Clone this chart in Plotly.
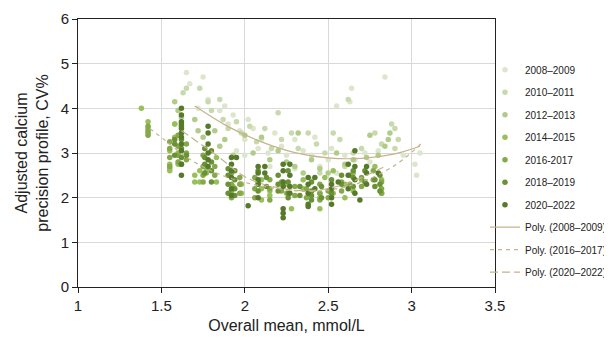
import plotly.graph_objects as go

# ---------------- data ----------------
labels = ["2008–2009", "2010–2011", "2012–2013", "2014–2015",
          "2016-2017", "2018–2019", "2020–2022"]
colors = ["#dde6cc", "#c8d9ad", "#b0cc88", "#98c05a",
          "#84a84a", "#6b9136", "#56792a"]

x_2008 = [1.65, 1.67, 1.75, 1.78, 1.72, 1.85, 1.88, 1.90, 1.93, 1.97, 2.00, 2.02, 2.05, 2.08, 2.10,
          2.14, 2.18, 2.22, 2.25, 2.30, 2.35, 2.40, 2.42, 2.45, 2.50, 2.52, 2.55, 2.60, 2.63, 2.64,
          2.66, 2.72, 2.75, 2.80, 2.84, 2.95, 3.02, 3.03, 3.05, 2.30, 2.15, 2.40, 2.55, 1.95, 2.00]
y_2008 = [4.80, 4.55, 4.70, 4.20, 4.00, 3.95, 4.05, 3.65, 3.85, 3.50, 3.30, 3.75, 3.55, 3.10, 3.30,
          3.00, 3.45, 3.15, 2.95, 3.30, 3.05, 2.95, 3.35, 2.70, 2.85, 3.10, 4.05, 2.95, 4.15, 4.45,
          2.85, 3.00, 2.80, 3.05, 4.70, 2.95, 2.75, 2.50, 3.00, 2.65, 2.70, 2.40, 2.55, 3.05, 2.95]

x_2010 = [1.63, 1.65, 1.73, 1.78, 1.80, 1.85, 1.87, 1.90, 1.95, 1.98, 2.03, 2.07, 2.12, 2.16, 2.20,
          2.22, 2.28, 2.32, 2.38, 2.43, 2.48, 2.53, 2.57, 2.62, 2.65, 2.70, 2.78, 2.82, 2.88, 2.90,
          2.92, 2.90, 2.60, 2.45]
y_2010 = [4.35, 4.45, 4.45, 4.15, 3.95, 4.20, 3.75, 3.55, 3.70, 3.45, 3.60, 3.25, 3.55, 3.10, 3.90,
          3.30, 3.45, 3.10, 3.45, 3.20, 3.00, 3.45, 3.30, 4.20, 3.00, 3.10, 3.45, 3.20, 3.65, 3.55,
          3.30, 3.10, 2.70, 2.55]

x_2012 = [1.60, 1.58, 1.58, 1.62, 1.70, 1.72, 1.75, 1.82, 1.85, 1.88, 1.93, 2.00, 2.05, 2.10, 2.15,
          2.20, 2.25, 2.30, 2.32, 2.35, 2.40, 2.45, 2.50, 2.55, 2.60, 2.65, 2.73, 2.75, 2.80, 2.84,
          2.86, 2.87]
y_2012 = [3.95, 3.65, 4.15, 3.80, 3.75, 3.50, 3.35, 3.50, 3.15, 3.30, 2.95, 3.40, 3.00, 3.35, 2.85,
          3.05, 2.80, 2.70, 3.45, 2.55, 2.85, 2.65, 2.55, 3.00, 2.75, 2.85, 2.90, 3.40, 2.95, 3.15,
          3.30, 3.45]

x_2014 = [1.38, 1.42, 1.42, 1.55, 1.55, 1.55, 1.55, 1.58, 1.58, 1.60, 1.60, 1.70, 1.70, 1.73, 1.73,
          1.77, 1.77, 1.83, 1.83, 1.93, 1.93, 1.93, 1.98, 1.98, 2.10, 2.10, 2.10, 2.15, 2.15, 2.25,
          2.25, 2.28, 2.35, 2.35, 2.45, 2.45, 2.45, 2.48, 2.53, 2.53, 2.60, 2.60, 2.65, 2.65, 2.70,
          2.78, 2.82, 2.82]
y_2014 = [4.00, 3.70, 3.55, 3.05, 2.75, 2.65, 2.60, 3.65, 3.35, 3.00, 2.75, 2.50, 2.35, 2.60, 2.35,
          2.65, 2.55, 2.90, 2.35, 2.25, 2.05, 2.60, 2.30, 2.10, 1.95, 2.40, 2.20, 2.05, 2.15, 2.10,
          2.30, 1.75, 2.20, 2.40, 1.75, 2.00, 2.10, 2.45, 2.10, 2.60, 2.00, 2.30, 2.55, 2.15, 2.40,
          2.70, 2.10, 2.40]

x_2016 = [1.42, 1.42, 1.42, 1.42, 1.55, 1.55, 1.55, 1.55, 1.60, 1.60, 1.60, 1.60, 1.65, 1.65, 1.65,
          1.75, 1.75, 1.75, 1.75, 1.82, 1.82, 1.92, 1.92, 1.92, 1.92, 1.97, 1.97, 1.97, 2.06, 2.06,
          2.06, 2.15, 2.15, 2.15, 2.22, 2.22, 2.30, 2.30, 2.37, 2.37, 2.45, 2.45, 2.45, 2.50, 2.50,
          2.58, 2.58, 2.63, 2.63, 2.70, 2.70, 2.77, 2.77, 2.82, 2.82, 2.82]
y_2016 = [3.60, 3.50, 3.45, 3.40, 3.25, 3.10, 2.90, 2.70, 3.40, 3.15, 2.95, 2.80, 3.20, 3.00, 2.85,
          2.95, 2.70, 2.50, 2.35, 2.70, 2.50, 2.55, 2.30, 2.15, 2.00, 2.45, 2.30, 2.10, 2.45, 2.20,
          2.00, 2.40, 2.20, 1.95, 2.35, 2.15, 2.25, 2.05, 2.20, 2.00, 2.30, 2.10, 1.95, 2.15, 2.00,
          2.35, 2.15, 2.50, 2.30, 2.45, 2.25, 2.60, 2.40, 2.35, 2.20, 2.10]

x_2018 = [1.58, 1.58, 1.58, 1.62, 1.62, 1.62, 1.62, 1.62, 1.65, 1.76, 1.76, 1.76, 1.76, 1.80, 1.80,
          1.80, 1.80, 1.90, 1.90, 1.90, 1.90, 1.94, 1.94, 1.94, 1.94, 2.08, 2.08, 2.08, 2.13, 2.13,
          2.20, 2.20, 2.20, 2.26, 2.26, 2.26, 2.26, 2.33, 2.33, 2.40, 2.40, 2.40, 2.40, 2.46, 2.46,
          2.52, 2.52, 2.58, 2.58, 2.65, 2.65, 2.65, 2.72, 2.72, 2.78, 2.78, 2.81, 2.81, 2.81]
y_2018 = [3.30, 3.20, 2.95, 3.60, 3.30, 3.10, 2.90, 2.75, 2.95, 3.10, 2.90, 2.75, 2.55, 3.05, 2.80,
          2.60, 2.35, 2.65, 2.50, 2.30, 2.10, 2.60, 2.40, 2.20, 2.05, 2.60, 2.35, 2.15, 2.45, 2.25,
          2.50, 2.30, 2.15, 2.60, 2.35, 2.10, 2.00, 2.25, 2.05, 2.35, 2.15, 2.05, 1.95, 2.25, 2.00,
          2.40, 2.10, 2.50, 2.30, 2.60, 2.45, 2.25, 2.60, 2.35, 2.40, 2.25, 2.50, 2.30, 2.15]

x_2020 = [1.62, 1.62, 1.62, 1.62, 1.62, 1.62, 1.62, 1.62, 1.62, 1.62, 1.62, 1.78, 1.78, 1.78, 1.78,
          1.78, 1.78, 1.92, 1.92, 1.92, 1.92, 1.92, 1.92, 1.95, 2.02, 2.08, 2.08, 2.08, 2.08, 2.08,
          2.12, 2.12, 2.23, 2.23, 2.23, 2.23, 2.23, 2.23, 2.23, 2.27, 2.27, 2.27, 2.27, 2.38, 2.38,
          2.38, 2.38, 2.38, 2.42, 2.42, 2.52, 2.52, 2.52, 2.52, 2.56, 2.62, 2.62, 2.62, 2.66, 2.66,
          2.66, 2.66, 2.69, 2.73, 2.73, 2.73, 2.80]
y_2020 = [4.00, 3.85, 3.70, 3.65, 3.55, 3.45, 3.35, 3.20, 3.05, 2.75, 2.50, 3.60, 3.45, 3.20, 3.00,
          2.85, 2.70, 2.90, 2.75, 2.60, 2.45, 2.20, 2.05, 2.90, 1.82, 2.70, 2.55, 2.40, 2.30, 2.00,
          2.70, 2.55, 2.75, 2.60, 2.35, 2.25, 1.75, 1.65, 1.55, 2.75, 2.50, 2.25, 2.10, 2.45, 2.30,
          2.10, 1.85, 1.80, 2.45, 2.20, 2.30, 2.20, 2.00, 1.85, 2.35, 2.75, 2.50, 2.20, 3.05, 2.70,
          2.40, 2.10, 1.95, 2.70, 2.55, 2.30, 2.55]

xs = [x_2008, x_2010, x_2012, x_2014, x_2016, x_2018, x_2020]
ys = [y_2008, y_2010, y_2012, y_2014, y_2016, y_2018, y_2020]

# polynomial trend lines
trend_labels = ["Poly. (2008–2009)", "Poly. (2016–2017)", "Poly. (2020–2022)"]
trend_dash = ["solid", "4px,4px", "8px,4px"]
trend_x_2008 = [1.70, 1.90, 2.10, 2.30, 2.50, 2.70, 2.90, 3.05]
trend_y_2008 = [4.05, 3.59, 3.25, 3.01, 2.89, 2.88, 2.98, 3.15]
trend_x_2016 = [1.43, 1.52, 1.67, 1.90, 2.20, 2.45, 2.70, 2.91, 3.06]
trend_y_2016 = [3.55, 3.29, 2.86, 2.45, 2.20, 2.15, 2.35, 2.75, 3.22]
trend_x_2020 = [1.62, 1.83, 2.01, 2.20, 2.40, 2.60, 2.83]
trend_y_2020 = [3.50, 2.95, 2.45, 2.22, 2.16, 2.30, 2.68]
trend_xs = [trend_x_2008, trend_x_2016, trend_x_2020]
trend_ys = [trend_y_2008, trend_y_2016, trend_y_2020]

x_ticks = [1, 1.5, 2, 2.5, 3, 3.5]
x_tick_labels = ["1", "1.5", "2", "2.5", "3", "3.5"]
y_ticks = [0, 1, 2, 3, 4, 5, 6]

# ---------------- figure ----------------
fig = go.Figure()
for i, (lab, col) in enumerate(zip(labels, colors)):
    fig.add_trace(go.Scatter(
        x=xs[i], y=ys[i], mode="markers", name=lab,
        legendgroup=f"g{i}",
        marker=dict(color=col, size=5.5, line=dict(width=0)),
    ))
for j, lab in enumerate(trend_labels):
    fig.add_trace(go.Scatter(
        x=trend_xs[j], y=trend_ys[j], mode="lines", name=lab,
        legendgroup=f"t{j}",
        line=dict(color="#c4b48e", width=1.2, dash=trend_dash[j], shape="spline"),
    ))

font_family = "Liberation Sans, Arial, sans-serif"
fig.update_layout(
    width=596, height=326,
    margin=dict(l=70, r=109, t=11, b=47, autoexpand=False),
    paper_bgcolor="white", plot_bgcolor="white",
    font=dict(family=font_family, color="#222222"),
    showlegend=True,
    legend=dict(
        x=0.976, xanchor="left", y=0.865, yanchor="top",
        font=dict(size=10, family=font_family, color="#222222"),
        tracegroupgap=3.5, itemwidth=30,
        bgcolor="rgba(0,0,0,0)",
    ),
    xaxis=dict(
        range=[1, 3.5], tickvals=x_ticks, ticktext=x_tick_labels,
        showgrid=True, gridcolor="#d9d9d9", gridwidth=1,
        showline=True, linecolor="#222222", linewidth=1, mirror=True,
        ticks="outside", ticklen=5, tickcolor="#222222",
        tickfont=dict(size=15), zeroline=False,
        title=dict(text="Overall mean, mmol/L", font=dict(size=16), standoff=6),
    ),
    yaxis=dict(
        range=[0, 6], tickvals=y_ticks,
        showgrid=True, gridcolor="#d9d9d9", gridwidth=1,
        showline=True, linecolor="#222222", linewidth=1, mirror=True,
        ticks="outside", ticklen=5, tickcolor="#222222",
        tickfont=dict(size=15), zeroline=False,
        title=dict(text="Adjusted calcium<br>precision profile, CV%", font=dict(size=16), standoff=8),
    ),
)

fig.write_html("out.html")
